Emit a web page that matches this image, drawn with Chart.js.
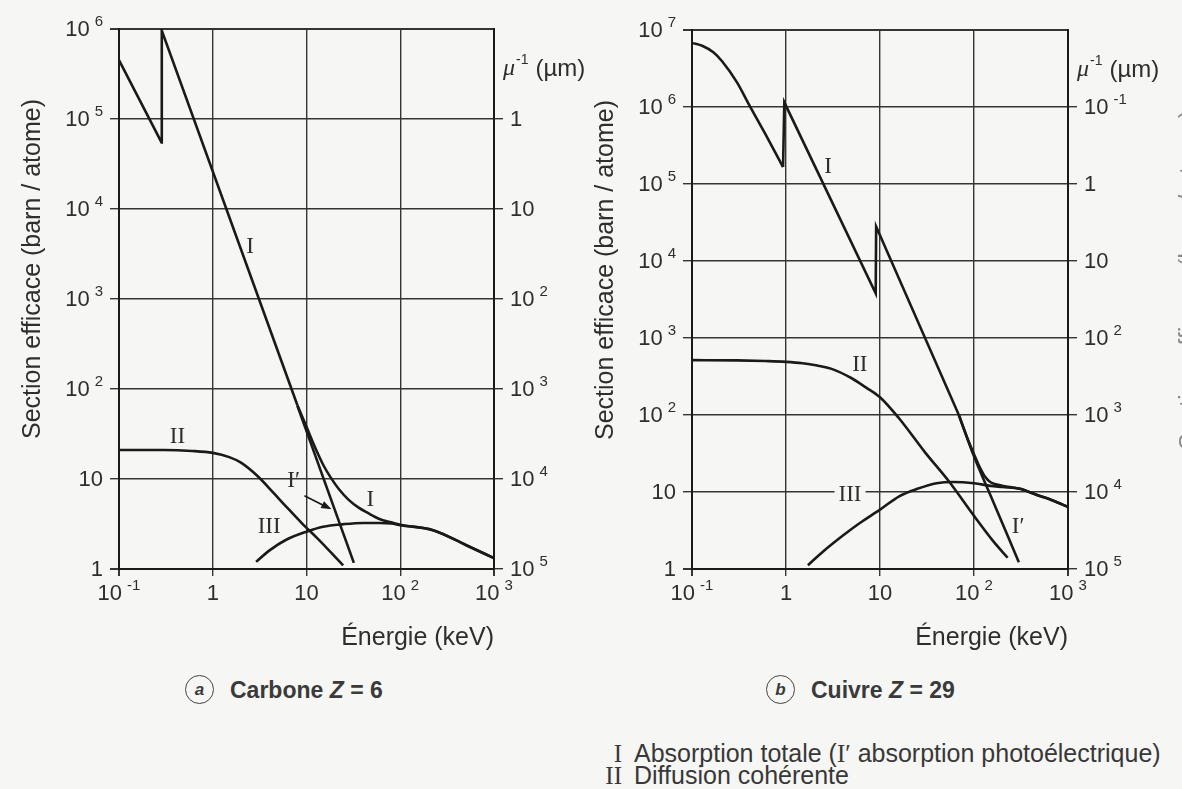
<!DOCTYPE html>
<html lang="fr">
<head>
<meta charset="utf-8">
<title>Section efficace – Carbone et Cuivre</title>
<script src="https://cdn.jsdelivr.net/npm/chart.js@4.4.1/dist/chart.umd.min.js"></script>
<style>
  html, body { margin: 0; padding: 0; }
  body {
    width: 1182px; height: 789px; overflow: hidden; position: relative;
    background: #f6f6f4; color: #2e2e2e;
    font-family: "Liberation Sans", Arial, sans-serif;
  }
  canvas { position: absolute; top: 0; }
  #carbon { left: 0; }
  #copper { left: 580px; }
  .cap { position: absolute; font-size: 23px; font-weight: bold; color: #3a3a3a; white-space: nowrap; }
  .ring {
    display: inline-block; width: 29px; height: 29px; box-sizing: border-box;
    border: 1.6px solid #444; border-radius: 50%; text-align: center;
    line-height: 27px; font-size: 17px; font-style: italic; margin-right: 16px;
    vertical-align: middle; position: relative; top: -2px;
  }
  .legend { position: absolute; left: 598px; font-size: 25px; color: #383838; white-space: nowrap; line-height: 22px; }
  .rn { font-family: "Liberation Serif", serif; display: inline-block; width: 24px; text-align: right; margin-right: 12px; }
  .ser { font-family: "Liberation Serif", serif; }
  .edge {
    position: absolute; left: 1176px; top: 90px; height: 360px;
    writing-mode: vertical-rl; transform: rotate(180deg);
    font-size: 25px; line-height: 25px; color: #8a8a8a; white-space: nowrap;
  }
</style>
</head>
<body>
<canvas id="carbon" width="610" height="660"></canvas>
<canvas id="copper" width="602" height="660"></canvas>

<div class="cap" style="left:185px; top:677px;"><span class="ring">a</span>Carbone <i>Z</i> = 6</div>
<div class="cap" style="left:766px; top:677px;"><span class="ring">b</span>Cuivre <i>Z</i> = 29</div>

<div class="legend" style="top:742px;"><span class="rn">I</span>Absorption totale (<span class="ser">I′</span> absorption photoélectrique)</div>
<div class="legend" style="top:764px;"><span class="rn">II</span>Diffusion cohérente</div>

<div class="edge">Section efficace (barn / atome)</div>

<script>
// Axis ticks (energy in keV, cross-section in barn/atom, mu^-1 in um)
const energyTicks = [0.1, 1, 10, 100, 1000];
const carbonSigmaTicks = [1, 10, 100, 1e3, 1e4, 1e5, 1e6];
const carbonMuTicks = [1, 10, 100, 1e3, 1e4, 1e5];
const copperSigmaTicks = [1, 10, 100, 1e3, 1e4, 1e5, 1e6, 1e7];
const copperMuTicks = [0.1, 1, 10, 100, 1e3, 1e4, 1e5];

// Carbon, Z = 6  -  [energy keV, barn/atom]
const carbonTotalEdge = [[0.1, 4.5e5], [0.284, 5.5e4], [0.286, 9.6e5], [8, 66]];
const carbonTotalTail = [[8, 66], [10, 38], [12, 24], [15, 14.5], [18, 10.5], [22, 7.8], [28, 5.9],
  [36, 4.8], [45, 4.2], [60, 3.6], [80, 3.3], [100, 3.1], [224, 2.7], [500, 1.85], [1000, 1.32]];
const carbonPhoto = [[8, 65], [32, 1.17]];
const carbonCoherent = [[0.1, 21], [0.3, 21], [0.6, 20.5], [1, 19.5], [1.5, 17.5], [2, 15.2], [3, 10.8],
  [4.35, 7.2], [6, 5.0], [9, 3.2], [13, 2.2], [18, 1.55], [24.6, 1.1]];
const carbonCompton = [[2.9, 1.2], [4, 1.6], [6, 2.1], [10, 2.6], [15, 2.95], [25, 3.15], [40, 3.25],
  [60, 3.25], [80, 3.2], [100, 3.07], [224, 2.7], [500, 1.85], [1000, 1.32]];

// Copper, Z = 29
const copperTotalHead = [[0.1, 6.8e6], [0.13, 6.2e6], [0.17, 5.1e6], [0.21, 3.9e6], [0.3, 2.1e6],
  [0.4, 1.1e6], [0.6, 4.5e5], [0.93, 1.66e5]];
const copperTotalEdge = [[0.93, 1.66e5], [0.96, 1.15e6], [9.0, 3.8e3], [9.1, 2.8e4], [69, 100]];
const copperTotalTail = [[69, 100], [85, 50], [100, 31], [115, 21], [130, 16], [150, 13.4], [190, 12.2],
  [250, 11.5], [308, 11], [460, 9.2], [700, 7.7], [1000, 6.4]];
const copperPhoto = [[69, 100], [100, 29], [150, 9], [220, 3], [300, 1.22]];
const copperCoherent = [[0.1, 516], [0.3, 512], [0.6, 502], [1, 490], [1.5, 470], [2, 445], [3, 400],
  [5, 300], [7, 230], [10, 170], [16, 90], [30, 33], [55, 13.4], [100, 4.9], [160, 2.3], [228, 1.4]];
const copperCompton = [[1.71, 1.12], [2.5, 1.7], [4, 2.7], [6, 3.9], [10, 5.9], [16, 8.8], [25, 11],
  [40, 13], [60, 13.5], [100, 13], [150, 12], [200, 11.6], [308, 11], [460, 9.2], [700, 7.7], [1000, 6.4]];

// Curve captions: [text, energy, barn, boxed]
const carbonLabels = [['I', 2.5, 3800], ['II', 0.42, 29], ['III', 4.0, 2.9], ['I′', 7.3, 9.5], ['I', 48, 5.8]];
const copperLabels = [['I', 2.8, 1.66e5], ['II', 6.1, 450], ['III', 4.8, 9.2, true], ['I′', 295, 3.5]];
const carbonArrow = [[9.5, 6.5], [18.5, 4.6]];

const INK = '#2e2e2e';
const LINE = '#1a1a1a';
const GRID = '#353535';
const BG = '#f6f6f4';
const SANS = '"Liberation Sans", Arial, sans-serif';
const SERIF = '"Liberation Serif", "Times New Roman", serif';

// "10" with a raised exponent, as printed on the axes
function drawPow(ctx, v, x, y, align) {
  const e = Math.round(Math.log10(v));
  const base = e === 0 ? '1' : '10';
  const exp = (e === 0 || e === 1) ? '' : String(e);
  ctx.font = '22px ' + SANS;
  const wb = ctx.measureText(base).width;
  ctx.font = '15px ' + SANS;
  const we = exp ? ctx.measureText(exp).width + 5 : 0;
  const w = wb + we;
  let x0 = align === 'right' ? x - w : align === 'center' ? x - w / 2 : x;
  ctx.textAlign = 'left';
  ctx.textBaseline = 'middle';
  ctx.font = '22px ' + SANS;
  ctx.fillText(base, x0, y + 1);
  if (exp) {
    ctx.font = '15px ' + SANS;
    ctx.fillText(exp, x0 + wb + 5, y - 7);
  }
}

const panelText = {
  id: 'panelText',
  afterDraw(chart, args, opts) {
    const { ctx, chartArea: a, scales } = chart;
    const sx = scales.x, sy = scales.y, s2 = scales.y2;
    ctx.save();
    ctx.fillStyle = INK;

    sy.ticks.forEach(t => drawPow(ctx, t.value, a.left - 16, sy.getPixelForValue(t.value), 'right'));
    s2.ticks.forEach(t => drawPow(ctx, t.value, a.right + 16, s2.getPixelForValue(t.value), 'left'));
    sx.ticks.forEach(t => drawPow(ctx, t.value, sx.getPixelForValue(t.value), a.bottom + 24, 'center'));

    // axis titles
    ctx.font = '25px ' + SANS;
    ctx.textBaseline = 'middle';
    ctx.save();
    ctx.translate(a.left - 86, a.top + 240);
    ctx.rotate(-Math.PI / 2);
    ctx.textAlign = 'center';
    ctx.fillText('Section efficace (barn / atome)', 0, 0);
    ctx.restore();

    ctx.textAlign = 'right';
    ctx.fillText('Énergie (keV)', a.right, a.bottom + 69);

    // mu^-1 (um) over the right axis
    let mx = a.right + 9;
    const my = a.top + 40;
    ctx.textAlign = 'left';
    ctx.font = 'italic 24px ' + SERIF;
    ctx.fillText('μ', mx, my);
    mx += ctx.measureText('μ').width + 1;
    ctx.font = '14px ' + SANS;
    ctx.fillText('-1', mx, my - 9);
    mx += ctx.measureText('-1').width + 7;
    ctx.font = '24px ' + SANS;
    ctx.fillText('(µm)', mx, my);

    // curve captions
    ctx.font = '23px ' + SERIF;
    ctx.textAlign = 'center';
    opts.labels.forEach(([txt, e, s, boxed]) => {
      const px = sx.getPixelForValue(e);
      const py = sy.getPixelForValue(s);
      if (boxed) {
        const w = ctx.measureText(txt).width + 8;
        ctx.fillStyle = BG;
        ctx.fillRect(px - w / 2, py - 10, w, 20);
        ctx.fillStyle = INK;
      }
      ctx.fillText(txt, px, py);
    });

    if (opts.arrow) {
      const [p, q] = opts.arrow;
      const x1 = sx.getPixelForValue(p[0]), y1 = sy.getPixelForValue(p[1]);
      const x2 = sx.getPixelForValue(q[0]), y2 = sy.getPixelForValue(q[1]);
      const ang = Math.atan2(y2 - y1, x2 - x1);
      ctx.strokeStyle = LINE;
      ctx.lineWidth = 1.6;
      ctx.beginPath();
      ctx.moveTo(x1, y1);
      ctx.lineTo(x2 - 6 * Math.cos(ang), y2 - 6 * Math.sin(ang));
      ctx.stroke();
      ctx.fillStyle = LINE;
      ctx.beginPath();
      ctx.moveTo(x2, y2);
      ctx.lineTo(x2 - 11 * Math.cos(ang - 0.35), y2 - 11 * Math.sin(ang - 0.35));
      ctx.lineTo(x2 - 11 * Math.cos(ang + 0.35), y2 - 11 * Math.sin(ang + 0.35));
      ctx.closePath();
      ctx.fill();
    }
    ctx.restore();
  }
};

function decades(list) {
  return scale => { scale.ticks = list.map(v => ({ value: v })); };
}

function edgeWidth(n) {
  return c => (c.index === 0 || c.index === n - 1) ? 2 : 1.4;
}

function makePanel(id, cfg) {
  const datasets = cfg.curves.map(c => ({
    data: c.pts.map(([x, y]) => ({ x, y })),
    borderColor: LINE,
    borderWidth: 2.6,
    pointRadius: 0,
    fill: false,
    tension: 0,
    cubicInterpolationMode: c.smooth ? 'monotone' : 'default'
  }));

  return new Chart(document.getElementById(id), {
    type: 'line',
    data: { datasets },
    options: {
      responsive: false,
      animation: false,
      devicePixelRatio: 1,
      layout: { padding: { top: cfg.top, left: 0, right: 0, bottom: 0 } },
      plugins: {
        legend: { display: false },
        tooltip: { enabled: false },
        panelText: { labels: cfg.labels, arrow: cfg.arrow }
      },
      scales: {
        x: {
          type: 'logarithmic', min: 0.1, max: 1000,
          afterBuildTicks: decades(energyTicks),
          afterFit: s => { s.height = 91; },
          ticks: { display: false },
          grid: { color: GRID, lineWidth: edgeWidth(energyTicks.length), tickLength: 7, tickColor: GRID },
          border: { display: true, color: LINE, width: 2 }
        },
        y: {
          type: 'logarithmic', position: 'left', min: 1, max: cfg.sigma[cfg.sigma.length - 1],
          afterBuildTicks: decades(cfg.sigma),
          afterFit: s => { s.width = cfg.leftW; },
          ticks: { display: false },
          grid: { color: GRID, lineWidth: edgeWidth(cfg.sigma.length), tickLength: 9, tickColor: GRID },
          border: { display: true, color: LINE, width: 2 }
        },
        y2: {
          type: 'logarithmic', position: 'right', reverse: true,
          min: cfg.muRange[0], max: cfg.muRange[1],
          afterBuildTicks: decades(cfg.mu),
          afterFit: s => { s.width = cfg.rightW; },
          ticks: { display: false },
          grid: { drawOnChartArea: false, tickLength: 9, color: GRID, lineWidth: 1.4 },
          border: { display: true, color: LINE, width: 2 }
        }
      }
    },
    plugins: [panelText]
  });
}

makePanel('carbon', {
  top: 29, leftW: 119, rightW: 116,
  sigma: carbonSigmaTicks, mu: carbonMuTicks, muRange: [0.1, 1e5],
  curves: [
    { pts: carbonTotalEdge },
    { pts: carbonTotalTail, smooth: true },
    { pts: carbonPhoto },
    { pts: carbonCoherent, smooth: true },
    { pts: carbonCompton, smooth: true }
  ],
  labels: carbonLabels,
  arrow: carbonArrow
});

makePanel('copper', {
  top: 30, leftW: 112, rightW: 114,
  sigma: copperSigmaTicks, mu: copperMuTicks, muRange: [0.01, 1e5],
  curves: [
    { pts: copperTotalHead, smooth: true },
    { pts: copperTotalEdge },
    { pts: copperTotalTail, smooth: true },
    { pts: copperPhoto, smooth: true },
    { pts: copperCoherent, smooth: true },
    { pts: copperCompton, smooth: true }
  ],
  labels: copperLabels
});
</script>
</body>
</html>
